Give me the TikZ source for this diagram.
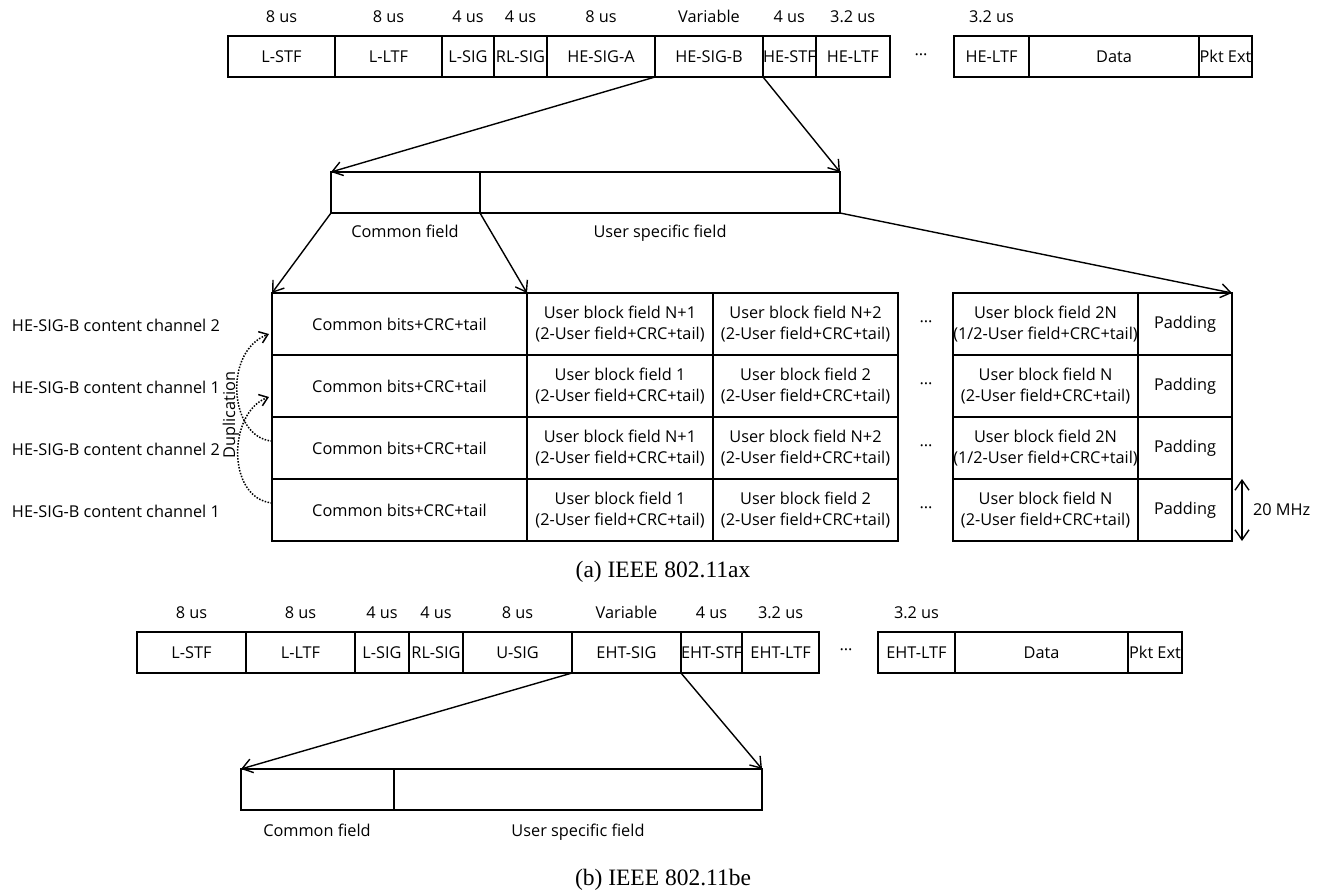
\documentclass[tikz,border=0pt]{standalone}
\usepackage{fontspec}
\setmainfont{Open Sans}
\newfontfamily\capfont{Liberation Serif}
\usetikzlibrary{arrows.meta, positioning}

\begin{document}
\begin{tikzpicture}[x=1pt, y=-1pt,
                    every node/.style={font=\fontsize{16.3}{21}\selectfont,
                                       inner sep=0pt, outer sep=0pt},
                    fld/.style={draw, line width=1.8pt, minimum height=41pt,
                                anchor=north west},
                    cell/.style={draw, line width=1.8pt, minimum height=62pt,
                                 align=center, anchor=north west},
                    dur/.style={inner sep=0pt},
                    label distance=13pt,
                    arr/.style={line width=1.4pt,
                                -{Straight Barb[length=10pt, width=14pt]}},
                    dim/.style={line width=1.4pt,
                                {Straight Barb[length=10pt, width=14pt]}-{Straight Barb[length=10pt, width=14pt]}},
                    dup/.style={line width=1.5pt, dash pattern=on 1.5pt off 1.5pt,
                                -{Straight Barb[length=8pt, width=12pt]}},
                    captxt/.style={font=\capfont\fontsize{23.5}{28}\selectfont}]

  \useasboundingbox (0,0) rectangle (1326,894);

  %% ---- (a) 802.11ax: the HE PPDU ----
  \node[fld, minimum width=107pt, label={[dur]above:8 us}] (lstf) at (228,36) {L-STF};
  \node[fld, minimum width=107pt, right=0pt of lstf, label={[dur]above:8 us}] (lltf) {L-LTF};
  \node[fld, minimum width=52pt, right=0pt of lltf, label={[dur]above:4 us}] (lsig) {L-SIG};
  \node[fld, minimum width=53pt, right=0pt of lsig, label={[dur]above:4 us}] (rlsig) {RL-SIG};
  \node[fld, minimum width=108pt, right=0pt of rlsig, label={[dur]above:8 us}] (hesiga) {HE-SIG-A};
  \node[fld, minimum width=108pt, right=0pt of hesiga, label={[dur]above:Variable}] (hesigb) {HE-SIG-B};
  \node[fld, minimum width=52pt, right=0pt of hesigb, label={[dur]above:4 us}] (hestf) {HE-STF};
  \node[fld, minimum width=74pt, right=0pt of hestf, label={[dur]above:3.2 us}] (heltf) {HE-LTF};
  \node (dotsa) at (921,57) {···};
  \node[fld, minimum width=75pt, label={[dur]above:3.2 us}] (heltfn) at (954,36) {HE-LTF};
  \node[fld, minimum width=170pt, right=0pt of heltfn] (dataa) {Data};
  \node[fld, minimum width=53pt, right=0pt of dataa] (pkta) {Pkt Ext};

  %% HE-SIG-B split into its two fields
  \node[fld, minimum width=149pt] (cf) at (331,172) {};
  \node[fld, minimum width=360pt, right=0pt of cf] (uf) {};
  \node[anchor=base] (cflbl) at (405,237) {Common field};
  \node[anchor=base] (uflbl) at (660,237) {User specific field};

  \draw[arr] (hesigb.south west) -- (cf.north west);
  \draw[arr] (hesigb.south east) -- (uf.north east);

  %% ---- content channels, one row per 20 MHz ----
  \foreach \r/\y/\ch/\ua/\ub/\uc/\ud in {1/293/2/N+1/N+2/2N/{1/2},
                                          2/355/1/1/2/N/2,
                                          3/417/2/N+1/N+2/2N/{1/2},
                                          4/479/1/1/2/N/2} {
    \node[cell, minimum width=255pt] (cb\r) at (272,\y) {Common bits+CRC+tail};
    \node[cell, minimum width=186pt, right=0pt of cb\r] (ua\r)
      {User block field \ua\\(2-User field+CRC+tail)};
    \node[cell, minimum width=185pt, right=0pt of ua\r] (ub\r)
      {User block field \ub\\(2-User field+CRC+tail)};
    \node (dt\r) at (926,{\y+31}) {···};
    \node[cell, minimum width=185pt] (uc\r) at (953,\y)
      {User block field \uc\\(\ud-User field+CRC+tail)};
    \node[cell, minimum width=94pt, right=0pt of uc\r] (pd\r) {Padding};
    \node[anchor=west] (ch\r) at (12,{\y+32}) {HE-SIG-B content channel \ch};
  }

  \draw[arr] (cf.south west) -- (cb1.north west);
  \draw[arr] (cf.south east) -- (cb1.north east);
  \draw[arr] (uf.south east) -- (pd1.north east);

  %% duplication of the two content channels
  \draw[dup] ([yshift=7pt]cb3.west) .. controls (230,438) and (222,352) ..
    ([xshift=-3pt, yshift=-10pt]cb1.west);
  \draw[dup] ([yshift=7pt]cb4.west) .. controls (226,498) and (228,412) ..
    ([xshift=-3pt, yshift=-11pt]cb2.west);
  \node[rotate=90] (duptxt) at (231,415) {Duplication};

  %% one row = 20 MHz
  \draw[dim] ([xshift=10pt]pd4.north east) -- ([xshift=10pt]pd4.south east);
  \node[anchor=west] (mhz) at (1253,510) {20 MHz};

  \node[captxt, anchor=base] (capa) at (663,577) {(a) IEEE 802.11ax};

  %% ---- (b) 802.11be: the EHT PPDU ----
  \node[fld, minimum width=109pt, label={[dur]above:8 us}] (lstfb) at (137,632) {L-STF};
  \node[fld, minimum width=109pt, right=0pt of lstfb, label={[dur]above:8 us}] (lltfb) {L-LTF};
  \node[fld, minimum width=54pt, right=0pt of lltfb, label={[dur]above:4 us}] (lsigb) {L-SIG};
  \node[fld, minimum width=54pt, right=0pt of lsigb, label={[dur]above:4 us}] (rlsigb) {RL-SIG};
  \node[fld, minimum width=109pt, right=0pt of rlsigb, label={[dur]above:8 us}] (usig) {U-SIG};
  \node[fld, minimum width=109pt, right=0pt of usig, label={[dur]above:Variable}] (ehtsig) {EHT-SIG};
  \node[fld, minimum width=55pt, right=0pt of ehtsig, label={[dur]above:4 us}] (ehtstf) {EHT-STF};
  \node[fld, minimum width=77pt, right=0pt of ehtstf, label={[dur]above:3.2 us}] (ehtltf) {EHT-LTF};
  \node (dotsb) at (846,652) {···};
  \node[fld, minimum width=77pt, label={[dur]above:3.2 us}] (ehtltfn) at (878,632) {EHT-LTF};
  \node[fld, minimum width=173pt, right=0pt of ehtltfn] (datab) {Data};
  \node[fld, minimum width=54pt, right=0pt of datab] (pktb) {Pkt Ext};

  %% EHT-SIG split into its two fields
  \node[fld, minimum width=153pt] (cfb) at (241,769) {};
  \node[fld, minimum width=368pt, right=0pt of cfb] (ufb) {};
  \node[anchor=base] (cfblbl) at (317,836) {Common field};
  \node[anchor=base] (ufblbl) at (578,836) {User specific field};

  \draw[arr] (ehtsig.south west) -- (cfb.north west);
  \draw[arr] (ehtsig.south east) -- (ufb.north east);

  \node[captxt, anchor=base] (capb) at (663,885) {(b) IEEE 802.11be};

\end{tikzpicture}
\end{document}
